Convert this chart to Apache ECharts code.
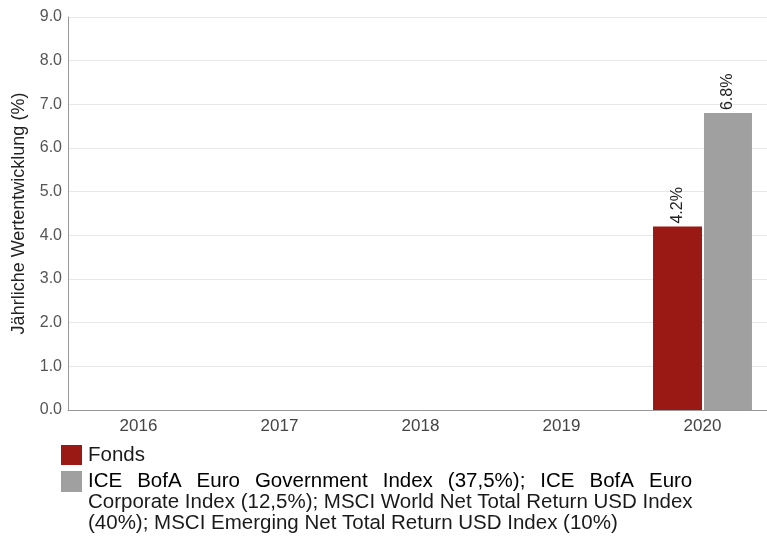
<!DOCTYPE html>
<html>
<head>
<meta charset="utf-8">
<script src="https://cdn.jsdelivr.net/npm/echarts@6/dist/echarts.min.js"></script>
<style>
  html, body { margin: 0; padding: 0; background: #fff; }
  #chart { width: 767px; height: 538px; }
</style>
</head>
<body>
<div id="chart"></div>
<script>
// Calendar years on the category axis
const years = ['2016', '2017', '2018', '2019', '2020'];
// Annual performance in percent (only 2020 available)
const fondsValues = [null, null, null, null, 4.2];
const benchmarkValues = [null, null, null, null, 6.8];
// Y axis tick range
const yTicks = { min: 0, max: 9, step: 1 };

const fondsName = 'Fonds';
// Benchmark description, wrapped into three lines (first line justified)
const benchmarkFirstLineWords = ['ICE', 'BofA', 'Euro', 'Government', 'Index', '(37,5%);', 'ICE', 'BofA', 'Euro'];
const benchmarkMoreLines = [
  'Corporate Index (12,5%); MSCI World Net Total Return USD Index',
  '(40%); MSCI Emerging Net Total Return USD Index (10%)'
];

const RED = '#9b1915';
const GREY = '#a0a0a0';
const FONT = 'Liberation Sans, Arial, sans-serif';
const LEGEND_FONT_SIZE = 20.5;

const chart = echarts.init(document.getElementById('chart'), null, { renderer: 'canvas' });

const barLabel = {
  show: true,
  position: 'top',
  rotate: 90,
  align: 'left',
  verticalAlign: 'middle',
  distance: 3,
  fontFamily: FONT,
  fontSize: 16,
  color: '#222',
  formatter: p => p.value.toFixed(1) + '%'
};

// Justified first line: words joined by fixed-width gap spans
const firstLineRich = benchmarkFirstLineWords.map(w => '{w|' + w + '}').join('{g| }');
const legendRich = {
  w: { fontFamily: FONT, fontSize: LEGEND_FONT_SIZE, color: '#1a1a1a', lineHeight: 21 },
  g: { fontFamily: FONT, fontSize: LEGEND_FONT_SIZE, width: 15, lineHeight: 21 }
};

chart.setOption({
  animation: false,
  backgroundColor: '#fff',
  grid: {
    left: 68, right: -6, top: 17, bottom: 128,
    containLabel: false,
    outerBoundsMode: 'none'
  },
  xAxis: {
    type: 'category',
    data: years,
    axisLine: { show: true, lineStyle: { color: '#999', width: 1 } },
    axisTick: { show: false },
    axisLabel: { fontFamily: FONT, fontSize: 17, color: '#444', margin: 8 },
    splitLine: { show: false }
  },
  yAxis: {
    type: 'value',
    min: yTicks.min,
    max: yTicks.max,
    interval: yTicks.step,
    name: 'Jährliche Wertentwicklung (%)',
    nameLocation: 'middle',
    nameRotate: 90,
    nameGap: 40,
    nameTextStyle: { fontFamily: FONT, fontSize: 18, color: '#222' },
    axisLine: { show: true, lineStyle: { color: '#999', width: 1 } },
    axisTick: { show: false },
    axisLabel: {
      fontFamily: FONT, fontSize: 16, color: '#555', margin: 6,
      formatter: v => v.toFixed(1)
    },
    splitLine: { show: true, lineStyle: { color: '#e8e8e8', width: 1 } }
  },
  series: [
    {
      name: fondsName,
      type: 'bar',
      data: fondsValues,
      barWidth: 49,
      barGap: '4%',
      itemStyle: { color: RED },
      label: barLabel
    },
    {
      name: 'Benchmark',
      type: 'bar',
      data: benchmarkValues,
      barWidth: 48,
      itemStyle: { color: GREY },
      label: barLabel
    }
  ],
  graphic: [
    { type: 'rect', left: 61, top: 445, shape: { width: 21, height: 20 }, style: { fill: RED } },
    {
      type: 'text', x: 88, y: 455,
      style: {
        text: fondsName,
        font: LEGEND_FONT_SIZE + 'px ' + FONT,
        fill: '#1a1a1a',
        verticalAlign: 'middle'
      }
    },
    { type: 'rect', left: 61, top: 471, shape: { width: 21, height: 21 }, style: { fill: GREY } },
    {
      type: 'text', x: 88, y: 471,
      style: {
        text: firstLineRich,
        rich: legendRich,
        verticalAlign: 'top'
      }
    },
    {
      type: 'text', x: 88, y: 492,
      style: {
        text: benchmarkMoreLines.join('\n'),
        font: LEGEND_FONT_SIZE + 'px ' + FONT,
        lineHeight: 21,
        fill: '#1a1a1a',
        verticalAlign: 'top'
      }
    }
  ]
});
</script>
</body>
</html>
